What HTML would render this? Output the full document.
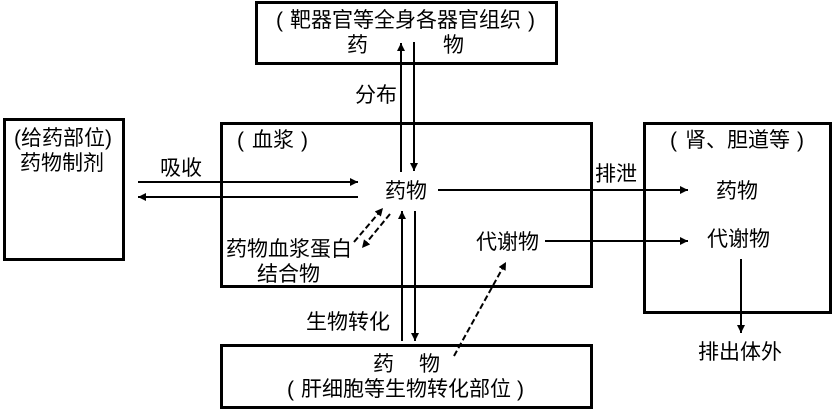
<!DOCTYPE html>
<html><head><meta charset="utf-8">
<style>
html,body{margin:0;padding:0;background:#fff;width:832px;height:414px;overflow:hidden}
svg{display:block}
text{font-family:"Liberation Sans","WenQuanYi Zen Hei","Noto Sans CJK SC",sans-serif;font-size:21px;fill:#000}
</style></head><body>
<svg width="832" height="414" viewBox="0 0 832 414" xmlns="http://www.w3.org/2000/svg">
<defs>
<marker id="a" markerUnits="userSpaceOnUse" markerWidth="9" markerHeight="9" refX="8" refY="4" orient="auto"><path d="M0 0L8 4L0 8Z" fill="#000"/></marker>
</defs>
<g fill="none" stroke="#000" stroke-width="3">
<rect x="256.5" y="2.5" width="300" height="61"/>
<rect x="221.5" y="123.5" width="370" height="163"/>
<rect x="4.5" y="119.5" width="119" height="140"/>
<rect x="644.5" y="123.5" width="186" height="189"/>
<rect x="221.5" y="345.5" width="370" height="62"/>
</g>
<g fill="none" stroke="#000" stroke-width="2" marker-end="url(#a)">
<path d="M401 172V43"/>
<path d="M414 42V171"/>
<path d="M138 182H358"/>
<path d="M358 197H138"/>
<path d="M438 190H688"/>
<path d="M545 241H688"/>
<path d="M741 259V333"/>
<path d="M402 341V211"/>
<path d="M415 211V341"/>
</g>
<g fill="none" stroke="#000" stroke-width="2" stroke-dasharray="6 3" marker-end="url(#a)">
<path d="M354 242L383 208"/>
<path d="M390 214L362 248"/>
<path d="M454 356L506 262"/>
</g>
<text x="276" y="27">(</text><text x="290" y="27">靶器官等全身各器官组织</text><text x="528" y="27">)</text>
<text x="347" y="52">药</text><text x="443" y="52">物</text>
<text x="355" y="102">分布</text>
<text x="237" y="147">(</text><text x="252" y="147">血浆</text><text x="301" y="147">)</text>
<text x="14" y="145">(给药部位)</text>
<text x="20" y="170">药物制剂</text>
<text x="160" y="175">吸收</text>
<text x="385" y="198">药物</text>
<text x="226" y="256">药物血浆蛋白</text>
<text x="257" y="281">结合物</text>
<text x="476" y="249">代谢物</text>
<text x="595" y="181">排泄</text>
<text x="670" y="147">(</text><text x="685" y="147">肾、胆道等</text><text x="797" y="147">)</text>
<text x="716" y="198">药物</text>
<text x="707" y="246">代谢物</text>
<text x="698" y="359">排出体外</text>
<text x="306" y="329">生物转化</text>
<text x="373" y="371">药</text><text x="419" y="371">物</text>
<text x="287" y="396">(</text><text x="301" y="396">肝细胞等生物转化部位</text><text x="517" y="396">)</text>
</svg>
</body></html>
